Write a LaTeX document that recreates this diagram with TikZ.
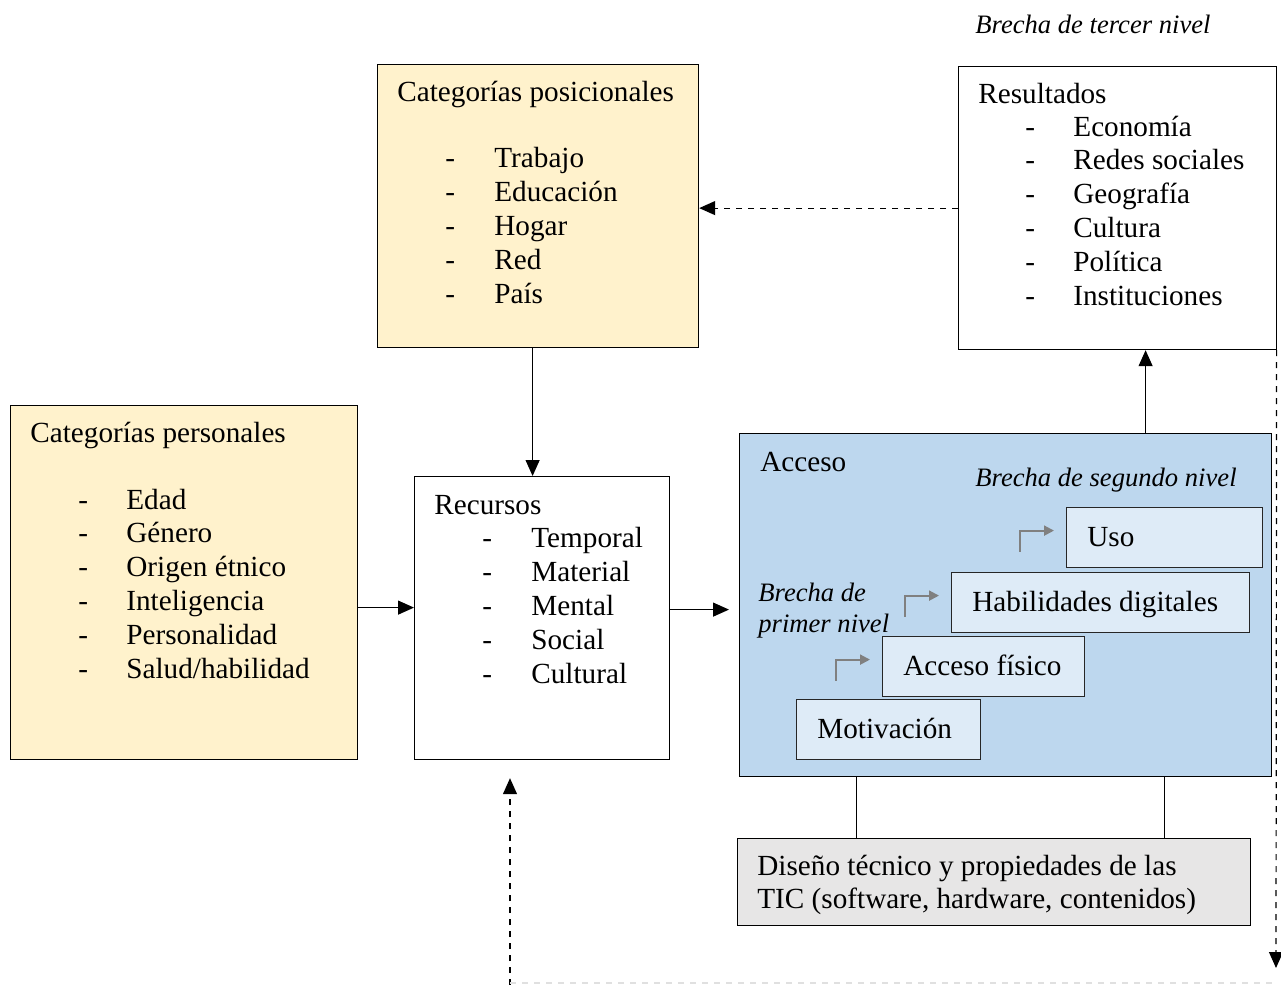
\documentclass[tikz,border=0pt]{standalone}
\usepackage{fontspec}
\setmainfont{Liberation Serif}
\usepackage{xcolor}
\definecolor{amarillo}{RGB}{255,242,204}
\definecolor{azul}{RGB}{189,215,238}
\definecolor{azulclaro}{RGB}{222,235,247}
\definecolor{grisclaro}{RGB}{231,230,230}
\usepackage{tikz}
\usetikzlibrary{positioning}
\usetikzlibrary{arrows.meta}

\tikzset{
  caja/.style={draw=black,line width=0.6pt,inner sep=0pt,anchor=north west},
  subcaja/.style={caja,draw=black!85,fill=azulclaro,minimum height=30pt},
  texto/.style={inner sep=0pt,anchor=base west,font=\fontsize{14.6}{17}\selectfont},
  brecha/.style={texto,font=\fontsize{13.3}{16}\selectfont\itshape},
  flecha/.style={-{Triangle[length=8pt,width=7pt]},line width=0.6pt},
  flechagris/.style={draw=black!50,-{Triangle[length=5pt,width=5pt]},line width=1pt}
}

\begin{document}
\begin{tikzpicture}[x=0.5pt,y=-0.5pt]
\useasboundingbox (0,0) rectangle (1281,985);

% cajas principales
\node[caja,fill=amarillo,minimum width=160.5pt,minimum height=141.5pt] (posic) at (377,64) {};
\node[caja,fill=white,minimum width=159pt,minimum height=141.5pt] (result) at (958,66) {};
\node[caja,fill=amarillo,minimum width=173.5pt,minimum height=177pt] (person) at (10,405) {};
\node[caja,fill=white,minimum width=127.5pt,minimum height=141.5pt] (recur) at (414,476) {};
\node[caja,fill=azul,minimum width=266pt,minimum height=171.5pt] (acceso) at (739,433) {};
\node[caja,fill=grisclaro,minimum width=256.5pt,minimum height=43.5pt] (diseno) at (737,838) {};

% escalones de acceso
\node[subcaja,minimum width=98pt] (uso) at (1066,507) {};
\node[subcaja,minimum width=149pt] (habil) at (951,572) {};
\node[subcaja,minimum width=101pt] (fisico) at (882,636) {};
\node[subcaja,minimum width=92pt] (motiv) at (796,699) {};
\node[texto] (uso-t) at ([xshift=10.5pt,yshift=-4.5pt]uso.west) {Uso};
\node[texto] (habil-t) at ([xshift=10.5pt,yshift=-4.5pt]habil.west) {Habilidades digitales};
\node[texto] (fisico-t) at ([xshift=10.5pt,yshift=-4.5pt]fisico.west) {Acceso físico};
\node[texto] (motiv-t) at ([xshift=10.5pt,yshift=-4.5pt]motiv.west) {Motivación};

% titulos
\node[brecha] (tercer) at (975,33) {Brecha de tercer nivel};
\node[texto] (posic-t) at (397,101) {Categorías posicionales};
\node[texto] (result-t) at (978,103) {Resultados};
\node[texto] (person-t) at (30,442) {Categorías personales};
\node[texto] (recur-t) at (434,514) {Recursos};
\node[texto] (acceso-t) at (760,471) {Acceso};
\node[brecha] (segundo) at (975,486) {Brecha de segundo nivel};
\node[brecha] (primer1) at (758,601) {Brecha de};
\node[brecha] (primer2) at (758,632) {primer nivel};
\node[texto] (diseno1) at (757,875) {Diseño técnico y propiedades de las};
\node[texto] (diseno2) at (757,908) {TIC (software, hardware, contenidos)};

% listas
\foreach \txt [count=\i] in {Trabajo,Educación,Hogar,Red,País}{
  \node[texto] (posic-g\i) at (445,{167+34*(\i-1)}) {-};
  \node[texto] (posic-\i) at (494,{167+34*(\i-1)}) {\txt};
}
\foreach \txt [count=\i] in {Economía,Redes sociales,Geografía,Cultura,Política,Instituciones}{
  \node[texto] (result-g\i) at (1025,{136+33.8*(\i-1)}) {-};
  \node[texto] (result-\i) at (1073,{136+33.8*(\i-1)}) {\txt};
}
\foreach \txt [count=\i] in {Edad,Género,Origen étnico,Inteligencia,Personalidad,Salud/habilidad}{
  \node[texto] (person-g\i) at (78,{509+33.8*(\i-1)}) {-};
  \node[texto] (person-\i) at (126,{509+33.8*(\i-1)}) {\txt};
}
\foreach \txt [count=\i] in {Temporal,Material,Mental,Social,Cultural}{
  \node[texto] (recur-g\i) at (482,{547+34*(\i-1)}) {-};
  \node[texto] (recur-\i) at (531,{547+34*(\i-1)}) {\txt};
}

% conectores
\draw[flecha,dashed] (result.west) -- (result.west -| posic.east);
\draw[flecha] ([xshift=-2.75pt]posic.south) -- ([xshift=-2.75pt]posic.south |- recur.north);
\draw[flecha] ([yshift=-12.5pt]person.east) -- ([yshift=-12.5pt]person.east -| recur.west);
\coordinate (salida) at ([yshift=4.25pt]recur.east);
\draw[flecha,shorten >=5pt] (salida) -- (salida -| acceso.west);
\draw[flecha] ([xshift=14pt]result.south |- acceso.north) -- ([xshift=14pt]result.south);
\draw[line width=0.6pt] ([xshift=-74.5pt]acceso.south) -- ([xshift=-74.5pt]acceso.south |- diseno.north);
\draw[line width=0.6pt] ([xshift=79.5pt]acceso.south) -- ([xshift=79.5pt]acceso.south |- diseno.north);
\foreach \b in {uso,habil,fisico}
  \draw[flechagris] ([shift={(-46,14)}]\b.west) |- ([shift={(-12,-7)}]\b.west);

% lazo de retroalimentacion
\coordinate (finder) at (1276,968);
\coordinate (finizq) at (510,985);
\draw[flecha,dashed] ([xshift=-0.3pt]result.south east) -- (finder);
\draw[flecha,dashed,shorten >=9pt] (finizq) -- (finizq |- recur.south);
\draw[black!12,dashed,line width=0.6pt] ([yshift=1pt]finizq) -- ([yshift=1pt]finizq -| finder);
\end{tikzpicture}
\end{document}
